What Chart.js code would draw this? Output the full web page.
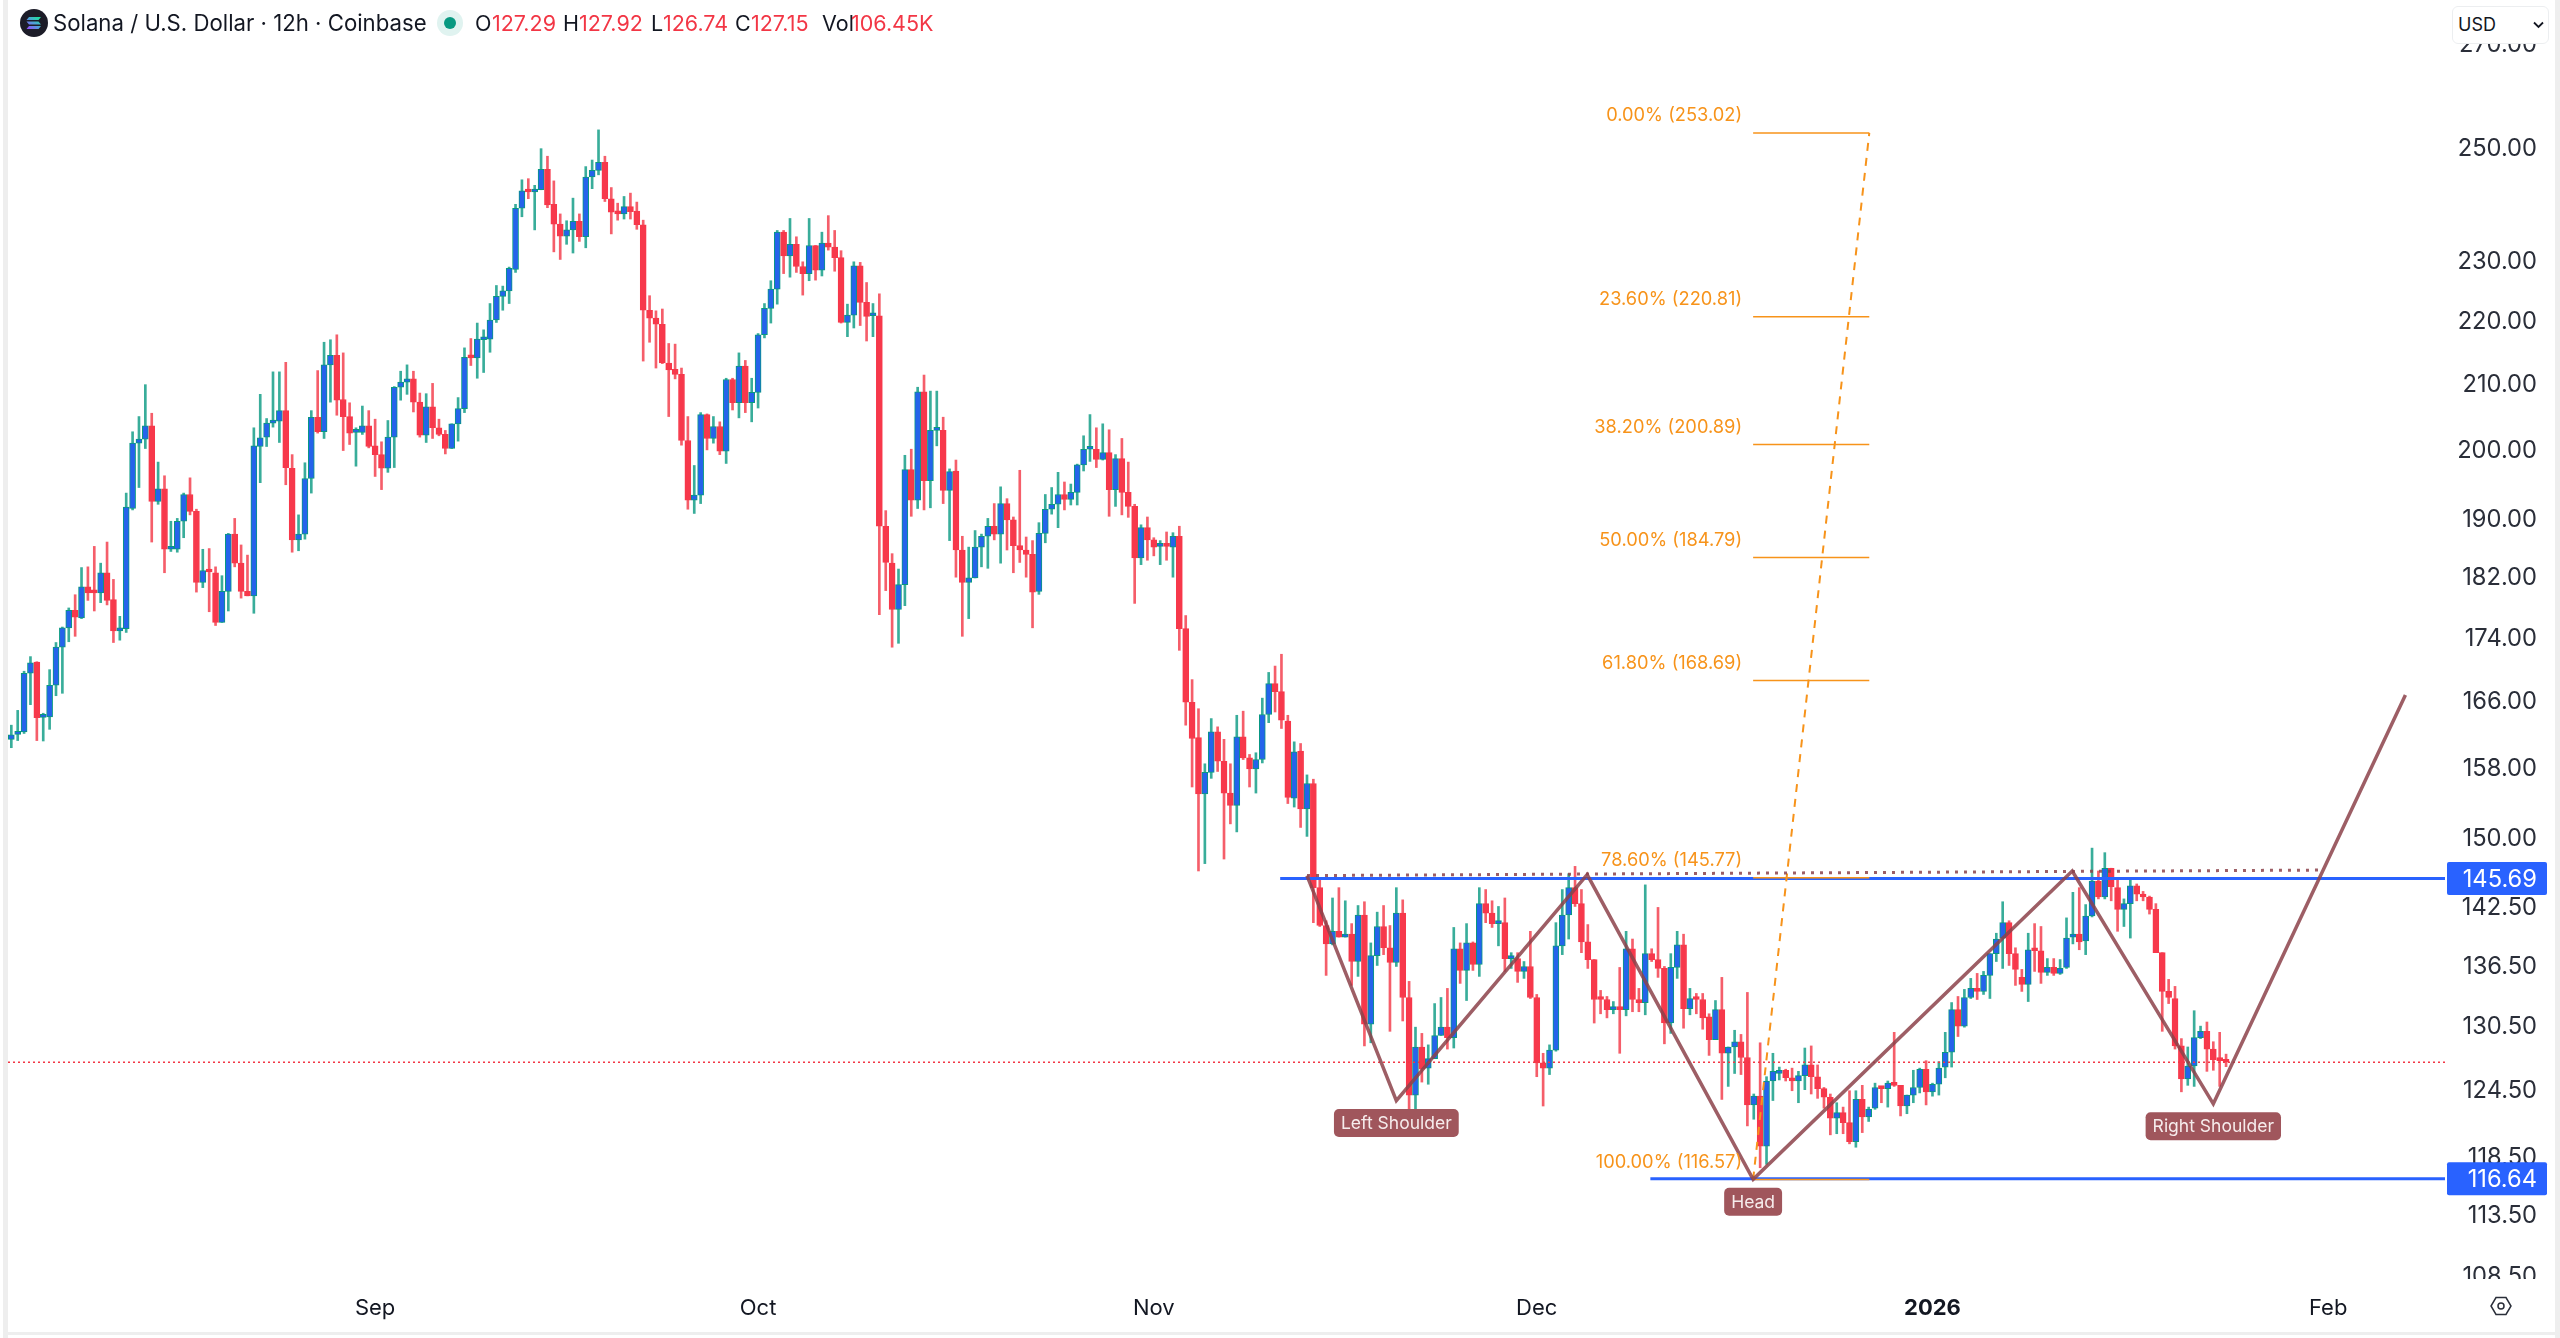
<!DOCTYPE html>
<html>
<head>
<meta charset="utf-8">
<title>Solana / U.S. Dollar</title>
<script src="https://cdn.jsdelivr.net/npm/chart.js@4"></script>
<style>
  html, body { margin: 0; padding: 0; background: #fff; width: 2560px; height: 1338px; overflow: hidden; font-family: Inter, sans-serif; color: #131722; }
  canvas { position: absolute; left: 0; top: 0; }
  .edge { position: absolute; background: #eeeeee; }
  .head { position: absolute; top: 10px; height: 26px; line-height: 26px; font-size: 21.5px; white-space: nowrap; }
  .red { color: #f23645; }
  #usd { position: absolute; left: 2452px; top: 6px; width: 95px; height: 36px; background: #fff; border: 1px solid #eceef0; border-radius: 6px; font-size: 18px; line-height: 36px; text-indent: 5px; box-sizing: content-box; }
  #mask { position: absolute; left: 2450px; top: 1279px; width: 100px; height: 10px; background: #fff; }
</style>
</head>
<body>
<canvas id="chart" width="2560" height="1338"></canvas>
<div class="edge" style="left:3px;top:0;width:5px;height:1338px"></div>
<div class="edge" style="left:2555px;top:0;width:5px;height:1338px"></div>
<div class="edge" style="left:3px;top:1332px;width:2557px;height:3px"></div>
<div id="mask"></div>
<svg style="position:absolute;left:20px;top:9px" width="28" height="28" viewBox="0 0 28 28">
  <defs><linearGradient id="sol" x1="0" y1="1" x2="1" y2="0"><stop offset="0" stop-color="#9945ff"/><stop offset="0.5" stop-color="#4fa0d8"/><stop offset="1" stop-color="#14f195"/></linearGradient></defs>
  <circle cx="14" cy="14" r="14" fill="#1c1c28"/>
  <path d="M9 8h12l-2.500 3H6.500zM6.500 12.500h12l2.500 3H9zM9 17h12l-2.500 3H6.500z" fill="url(#sol)"/>
</svg>
<div class="head" style="left:53px;font-size:22.2px">Solana / U.S. Dollar · 12h · Coinbase</div>
<svg style="position:absolute;left:436px;top:9px" width="28" height="28"><circle cx="14" cy="14" r="13" fill="#e0f3f0"/><circle cx="14" cy="14" r="6" fill="#089981"/></svg>
<div class="head" style="left:475px">O</div><div class="head red" style="left:492px">127.29</div>
<div class="head" style="left:563px">H</div><div class="head red" style="left:579px">127.92</div>
<div class="head" style="left:651px">L</div><div class="head red" style="left:663px">126.74</div>
<div class="head" style="left:735px">C</div><div class="head red" style="left:751px">127.15</div>
<div class="head" style="left:822px">Vol</div><div class="head red" style="left:851px;word-spacing:-6px">106.45 K</div>
<div id="usd">USD<svg style="position:absolute;left:80px;top:14px" width="11" height="8" viewBox="0 0 11 8"><path d="M1 1.500l4.500 4.500 4.500-4.500" fill="none" stroke="#131722" stroke-width="1.800"/></svg></div>
<svg style="position:absolute;left:2490px;top:1295px" width="22" height="22" viewBox="0 0 22 22"><path d="M6 2.500h10l5 8.500-5 8.500H6L1 11z" fill="none" stroke="#2a2e39" stroke-width="1.500"/><circle cx="11" cy="11" r="3" fill="none" stroke="#2a2e39" stroke-width="1.500"/></svg>
<script>
// candles, 12h bars
const opens = [
  161.5,162.1,162.4,169.6,171.0,164.15,164.2,168.1,172.9,175.4,
  177.7,176.7,180.8,180.1,180.0,182.7,179.1,175.0,175.3,191.6,
  201.1,201.7,203.7,192.6,194.4,185.9,185.9,189.8,193.6,191.2,
  181.4,183.0,182.7,176.1,180.2,188.0,184.0,180.2,179.6,200.6,
  202.0,204.1,204.4,206.0,197.4,187.2,188.0,195.9,205.0,202.8,
  213.1,214.6,207.7,205.1,202.7,202.7,203.7,200.7,199.4,197.4,
  202.0,209.6,210.4,210.9,207.3,202.3,206.6,203.4,202.4,200.3,
  204.0,206.3,214.4,214.2,217.1,217.2,220.3,224.2,225.1,228.7,
  239.3,242.3,242.2,242.6,246.3,240.0,236.5,234.4,235.5,237.0,
  234.3,244.9,246.1,247.6,241.0,238.6,238.3,239.6,238.8,236.4,
  221.9,220.6,219.6,213.4,212.4,211.6,201.5,192.8,193.5,205.4,
  201.8,203.6,199.9,210.8,207.2,212.9,207.2,208.8,217.9,222.2,
  225.4,235.1,231.0,233.0,229.2,228.0,232.8,228.6,233.2,232.5,
  230.7,219.9,221.1,229.3,223.2,221.0,221.0,189.1,184.0,177.8,
  181.1,197.2,192.8,208.9,195.6,203.0,203.0,194.2,197.0,185.8,
  181.4,182.0,186.2,187.7,189.1,188.0,192.3,190.0,186.4,185.8,
  185.2,180.2,188.1,191.5,192.2,193.6,192.9,193.9,197.9,200.2,
  200.2,198.7,199.7,194.3,198.8,193.9,191.9,184.7,188.9,187.2,
  186.3,186.4,186.2,187.7,175.3,166.0,161.7,155.1,157.6,162.4,
  158.9,155.2,153.8,161.8,159.3,158.0,159.1,164.5,168.3,167.3,
  163.7,154.6,160.1,153.4,156.3,144.7,140.7,138.8,140.1,139.5,
  139.8,137.0,141.8,130.8,137.6,140.6,138.4,136.9,142.0,133.4,
  124.1,128.6,126.6,127.5,129.7,130.5,129.5,138.3,136.1,138.9,
  136.7,143.0,142.0,140.9,141.0,137.3,137.3,136.0,136.5,133.4,
  127.1,126.6,128.3,138.6,141.8,144.7,143.0,139.0,137.2,133.3,
  133.2,132.2,132.4,132.2,138.3,133.2,132.9,137.8,137.2,136.3,
  130.9,136.4,138.7,132.3,133.3,133.2,131.5,129.3,132.2,128.0,
  128.6,129.1,127.6,123.2,124.0,119.5,125.4,126.1,126.4,125.7,
  125.4,125.9,126.9,125.8,124.7,123.9,122.0,122.5,121.6,119.9,
  123.7,122.1,122.9,124.8,124.7,125.2,125.0,123.1,124.1,124.8,
  126.5,124.4,125.1,126.7,128.1,132.2,130.6,133.4,134.3,134.0,
  135.6,137.8,139.4,141.0,137.8,135.4,134.7,138.2,138.1,135.9,
  136.4,135.8,136.4,139.5,139.8,139.1,141.7,145.4,143.7,146.8,
  144.7,142.4,143.0,144.9,144.0,143.7,142.4,137.9,134.0,133.3,
  128.7,125.6,126.8,129.5,130.1,128.4,127.4,127.29
];
const highs = [
  163.2,165.0,169.85,171.7,171.05,164.65,170.05,173.5,175.5,178.0,
  179.75,183.4,183.5,186.3,184.0,186.9,181.8,176.9,193.8,202.8,
  205.1,210.0,205.6,198.3,196.3,189.8,190.2,193.8,196.0,191.5,
  185.9,186.0,183.5,182.3,188.1,190.2,186.5,185.1,203.4,208.5,
  204.8,212.0,212.0,213.5,199.4,190.7,198.2,206.0,212.2,216.7,
  217.1,217.9,215.0,207.2,203.4,206.7,206.0,204.7,201.3,204.5,
  209.7,212.1,213.1,212.1,208.7,208.6,210.2,204.7,203.0,204.0,
  208.0,215.8,217.3,219.8,218.7,223.0,226.0,225.9,229.1,240.0,
  244.4,244.6,243.4,250.1,248.7,244.2,238.3,237.1,241.1,238.3,
  246.8,248.0,253.6,248.7,243.0,240.2,241.4,242.0,240.4,237.2,
  224.3,221.8,222.1,216.5,216.4,212.6,205.1,197.8,205.7,205.5,
  205.1,204.3,211.0,211.0,215.0,213.8,211.0,218.1,223.0,226.8,
  235.4,235.4,237.5,234.3,230.0,237.5,232.8,235.1,238.0,235.4,
  231.9,222.9,230.0,229.9,226.5,223.0,224.6,191.3,185.3,183.2,
  199.3,200.2,209.6,211.5,209.0,209.0,205.0,197.3,198.6,187.7,
  186.2,188.5,188.0,190.2,192.3,194.7,193.0,190.4,197.1,187.6,
  187.1,189.6,193.6,194.6,196.8,195.4,195.1,198.0,202.2,205.4,
  203.4,204.0,203.1,199.4,201.8,198.3,192.2,189.3,190.4,187.5,
  187.1,188.3,188.2,189.1,177.0,168.8,165.2,158.6,164.0,163.0,
  161.5,158.6,164.4,164.9,159.7,159.9,166.5,169.7,170.5,172.0,
  164.4,161.2,161.0,157.3,156.8,145.6,141.2,143.6,144.7,143.3,
  140.9,142.8,143.2,138.9,142.1,142.8,140.7,144.7,143.4,135.0,
  130.5,129.9,128.8,132.8,133.4,134.3,140.5,138.9,140.9,139.0,
  144.7,144.5,143.3,142.7,143.6,137.9,137.9,137.0,140.1,133.7,
  128.0,128.8,141.0,144.5,146.2,147.0,144.5,140.8,137.2,134.1,
  133.5,133.0,136.4,140.1,139.3,134.3,145.0,138.3,142.6,136.5,
  137.8,140.1,139.8,134.3,133.8,133.8,131.8,133.1,135.4,128.6,
  130.2,129.8,133.9,124.2,129.0,125.8,128.0,126.7,126.5,126.6,
  126.3,128.5,128.7,126.9,124.8,124.2,123.4,123.0,124.5,124.5,
  125.0,123.0,125.2,124.9,125.4,130.0,125.0,124.1,126.4,126.6,
  127.3,125.2,127.2,130.0,132.9,133.5,134.2,135.3,135.8,136.0,
  137.8,139.9,143.2,141.2,138.4,136.2,139.9,140.9,140.6,137.3,
  137.3,137.2,141.5,144.2,144.7,142.9,149.0,146.5,148.5,146.8,
  145.7,143.5,145.6,145.1,144.3,143.8,143.0,137.9,135.2,134.5,
  129.4,128.6,132.1,130.6,131.0,129.1,130.0,127.92
];
const lows = [
  160.5,161.35,162.2,165.7,161.35,161.3,162.7,166.8,167.1,173.6,
  174.3,176.6,179.0,177.6,178.7,178.4,173.5,173.8,174.8,191.4,
  194.6,200.3,186.9,192.2,182.7,185.6,185.5,187.5,190.7,180.1,
  180.7,177.5,175.7,176.1,177.6,183.5,179.3,179.6,177.3,195.3,
  200.6,203.5,201.2,195.0,185.5,185.7,187.3,193.8,202.6,201.8,
  207.3,205.3,200.0,200.9,197.7,202.4,200.4,196.2,194.3,196.8,
  197.5,207.6,208.5,205.8,202.0,201.2,201.8,202.2,199.5,200.3,
  201.4,205.7,213.0,211.0,211.9,215.1,219.9,221.9,223.0,228.2,
  237.8,241.0,235.5,242.6,239.4,231.7,230.4,233.0,231.5,233.5,
  232.4,242.8,245.3,240.5,234.8,237.2,237.4,237.4,235.6,213.7,
  216.7,212.6,213.3,205.1,210.9,200.8,191.5,190.9,192.3,200.1,
  201.1,199.4,198.1,206.1,204.9,205.7,204.3,206.4,217.4,219.8,
  222.9,228.0,227.4,228.2,224.4,226.8,226.9,227.6,232.0,228.4,
  219.8,217.6,219.0,219.4,216.9,217.6,177.1,180.3,172.9,173.4,
  178.3,190.5,191.6,191.4,191.7,200.7,192.3,187.1,182.1,174.3,
  176.6,182.0,183.5,183.3,187.2,184.0,185.8,182.7,184.1,182.1,
  175.4,179.8,186.8,190.8,188.9,191.4,192.1,192.1,197.0,198.4,
  197.5,198.6,190.5,191.9,190.7,190.35,178.6,183.8,184.4,185.0,
  183.8,184.4,182.1,172.5,163.2,155.9,146.5,147.3,156.9,157.7,
  147.8,151.7,150.8,159.1,155.9,155.2,158.7,163.5,164.8,162.8,
  154.0,153.6,151.3,150.3,141.0,140.6,135.6,138.7,139.5,139.5,
  134.6,135.5,128.7,129.0,136.6,137.7,130.1,136.5,131.1,122.1,
  121.9,125.3,125.1,127.5,129.7,128.4,128.5,134.8,133.1,136.1,
  135.5,141.0,140.5,138.6,136.0,136.3,134.9,135.3,133.3,125.8,
  123.1,126.0,128.2,137.7,139.3,142.7,137.9,136.3,130.9,131.8,
  131.4,131.8,128.0,131.6,132.0,132.0,131.7,137.0,135.4,128.9,
  129.9,135.3,130.4,131.7,131.8,130.3,127.8,129.3,123.7,124.9,
  126.1,126.0,121.3,121.9,117.6,117.9,123.6,125.5,125.4,124.5,
  123.4,124.6,124.2,123.8,122.9,120.5,120.6,120.6,119.7,119.4,
  120.7,121.7,122.8,123.4,123.0,124.9,122.2,122.4,123.4,124.3,
  123.2,124.0,124.1,125.7,126.7,129.6,130.5,133.3,133.2,133.7,
  133.3,137.0,136.3,136.6,134.6,134.0,133.0,136.0,134.8,135.6,
  135.6,135.7,136.3,138.8,138.2,137.7,141.6,143.5,143.5,143.3,
  140.1,140.6,139.4,143.3,143.3,141.9,137.9,130.1,132.8,128.4,
  124.4,125.0,124.9,129.4,126.3,126.4,124.9,126.74
];
const closes = [
  162.05,162.4,169.6,170.9,164.1,164.3,168.1,172.9,175.4,177.7,
  176.8,180.8,180.0,180.0,182.7,179.0,175.0,175.3,191.8,201.1,
  201.7,203.7,192.6,194.4,185.9,186.0,189.8,193.6,191.2,181.4,
  183.0,182.8,176.1,180.2,188.0,184.0,180.2,179.6,200.7,201.9,
  204.1,204.4,206.0,197.5,187.2,188.0,195.9,205.0,202.8,213.1,
  214.6,207.6,205.1,202.6,202.9,203.7,200.6,199.4,197.4,202.0,
  209.6,210.4,210.9,207.3,202.3,206.6,203.4,202.4,200.3,204.0,
  206.3,214.3,214.2,217.2,217.3,220.3,224.2,225.1,228.9,239.3,
  242.4,242.2,242.6,246.3,239.9,236.5,234.4,235.5,237.0,234.3,
  244.9,246.1,247.6,241.0,238.6,238.3,239.6,238.7,236.4,221.9,
  220.6,219.6,213.4,212.3,211.6,201.5,192.8,193.5,205.4,201.8,
  203.6,199.9,210.8,207.2,212.9,207.2,208.8,217.9,222.2,225.4,
  235.1,231.0,233.0,229.2,228.0,232.8,228.6,233.2,232.5,230.7,
  219.9,221.1,229.3,223.2,220.9,221.2,189.1,184.1,177.8,181.1,
  197.2,192.8,208.9,195.6,203.0,203.2,194.2,196.9,185.8,181.4,
  182.0,186.2,187.7,189.1,188.0,192.3,190.0,186.4,185.8,185.2,
  180.1,188.1,191.5,192.2,193.6,192.9,193.9,197.9,200.2,200.3,
  198.7,199.7,194.3,198.8,193.9,191.9,184.7,188.9,187.2,186.2,
  186.4,186.3,187.7,175.3,166.0,161.6,155.1,157.6,162.4,158.9,
  155.2,153.8,161.8,159.3,158.0,159.1,164.5,168.3,167.3,163.8,
  154.7,160.0,153.4,156.3,144.7,140.7,138.8,140.1,139.5,139.8,
  137.0,141.8,130.8,137.6,140.6,138.4,136.9,142.0,133.4,124.1,
  128.6,126.5,127.5,129.7,130.5,129.5,138.3,136.1,138.9,136.7,
  143.0,142.0,140.9,141.0,137.3,137.4,136.0,136.5,133.4,127.1,
  126.6,128.3,138.6,141.8,144.7,143.0,139.0,137.2,133.2,133.2,
  132.2,132.5,132.2,138.3,133.2,132.9,137.8,137.2,136.3,130.9,
  136.4,138.7,132.3,133.3,133.2,131.4,129.3,132.2,128.0,128.6,
  129.1,127.6,123.2,124.0,119.5,125.4,126.3,126.4,125.7,125.4,
  125.9,126.9,125.8,124.7,123.9,122.0,122.5,121.6,119.9,123.7,
  122.1,122.8,124.8,124.7,125.2,125.0,123.1,124.1,124.8,126.5,
  124.4,125.1,126.6,128.1,132.2,130.6,133.4,134.3,134.0,135.6,
  137.8,139.3,141.0,137.8,136.2,134.7,138.2,138.1,135.9,136.4,
  135.8,136.3,139.4,139.8,139.0,141.7,145.4,143.7,146.8,144.8,
  142.4,143.0,144.9,144.0,143.7,142.4,137.9,134.0,133.4,128.7,
  125.6,126.8,129.5,130.1,128.4,127.4,127.3,127.15
];

// axes
const Y_TICKS = [270, 250, 230, 220, 210, 200, 190, 182, 174, 166, 158, 150, 142.5, 136.5, 130.5, 124.5, 118.5, 113.5, 108.5];
const X_TICKS = [57, 117, 179, 239, 301, 363]; // bar index of each month start
const X_LABELS = ["Sep", "Oct", "Nov", "Dec", "2026", "Feb"];
const X_MIN = -0.52, X_MAX = 381.3, Y_MIN = 108.22, Y_MAX = 279.2;

// drawings
const PATTERN_X = [203.0, 217.0, 246.9, 272.9, 322.9, 345.0, 375.1];
const PATTERN_Y = [146.0, 123.6, 146.1, 116.6, 146.5, 123.3, 166.9];
const NECK_X = [203.0, 362.1];
const NECK_Y = [146.0, 146.6];
const PATTERN_NAMES = ["Left Shoulder", "Head", "Right Shoulder"];
const PATTERN_NAME_AT = [1, 3, 5];
const FIB_PCT = ["0.00%", "23.60%", "38.20%", "50.00%", "61.80%", "78.60%", "100.00%"];
const FIB_PRICE = [253.02, 220.81, 200.89, 184.79, 168.69, 145.77, 116.57];
const FIB_X = [272.9, 291.1];
const LEVELS = [145.69, 116.64];
const LEVEL_FROM = [198.8, 256.8];
const LAST_PRICE = 127.15;

const GREEN = "#089981", RED = "#f23645", BLUE = "#2563eb", BODY_RED = "#f7384b";
const BROWN = "rgba(140,66,74,0.85)", ORANGE = "#f7931a", LEVEL_BLUE = "#2962ff", LABEL_BROWN = "#a0565c";
const FONT = "Inter, sans-serif";

const isUp = (i) => closes[i] >= opens[i];
const wicks = opens.map((o, i) => ({ x: i, y: [lows[i], highs[i]] }));
const bodies = opens.map((o, i) => ({ x: i, y: [Math.min(o, closes[i]), Math.max(o, closes[i])] }));
const pts = (xs, ys) => xs.map((x, i) => ({ x, y: ys[i] }));

const lineDs = (data, color, width, dash, order) => ({
  type: "line", data, borderColor: color, borderWidth: width, borderDash: dash || [],
  pointRadius: 0, fill: false, tension: 0, order,
});

const datasets = [
  {
    data: wicks, barThickness: 2, grouped: false, order: 9, minBarLength: 1,
    backgroundColor: wicks.map((w, i) => isUp(i) ? "rgba(8,153,129,0.8)" : "rgba(242,54,69,0.8)"),
  },
  {
    data: bodies, barThickness: 6, grouped: false, order: 8, minBarLength: 3, borderWidth: 1, borderSkipped: false,
    backgroundColor: bodies.map((b, i) => isUp(i) ? BLUE : BODY_RED),
    borderColor: bodies.map((b, i) => isUp(i) ? GREEN : BODY_RED),
  },
  lineDs(pts([X_MIN, X_MAX], [LAST_PRICE, LAST_PRICE]), RED, 1.5, [2, 3], 7),
  lineDs(pts([LEVEL_FROM[0], X_MAX], [LEVELS[0], LEVELS[0]]), LEVEL_BLUE, 3, null, 5),
  lineDs(pts([LEVEL_FROM[1], X_MAX], [LEVELS[1], LEVELS[1]]), LEVEL_BLUE, 3, null, 5),
  ...FIB_PRICE.map((p) => lineDs(pts(FIB_X, [p, p]), ORANGE, 1.5, null, 4)),
  lineDs(pts(FIB_X, [FIB_PRICE[6], FIB_PRICE[0]]), ORANGE, 2, [8, 7], 4),
  lineDs(pts(NECK_X, NECK_Y), BROWN, 3, [3, 6], 3),
  lineDs(pts(PATTERN_X, PATTERN_Y), BROWN, 3.5, null, 2),
];

// labels and price tags sit over the marks
const overlay = {
  id: "overlay",
  afterDraw(chart) {
    const { ctx, scales: { x, y }, chartArea } = chart;
    ctx.save();
    ctx.textBaseline = "middle";

    // fib level captions
    ctx.font = "18.3px " + FONT;
    ctx.fillStyle = ORANGE;
    ctx.textAlign = "right";
    FIB_PRICE.forEach((p, i) => {
      ctx.fillText(FIB_PCT[i] + " (" + p.toFixed(2) + ")", x.getPixelForValue(FIB_X[0]) - 11, y.getPixelForValue(p) - 17);
    });

    // pattern name boxes
    ctx.font = "17.5px " + FONT;
    ctx.textAlign = "center";
    PATTERN_NAMES.forEach((name, i) => {
      const k = PATTERN_NAME_AT[i];
      const cx = x.getPixelForValue(PATTERN_X[k]);
      const top = y.getPixelForValue(PATTERN_Y[k]) + 8.5;
      const w = ctx.measureText(name).width + 14;
      ctx.fillStyle = LABEL_BROWN;
      ctx.beginPath();
      ctx.roundRect(cx - w / 2, top, w, 28, 5);
      ctx.fill();
      ctx.fillStyle = "#f6ecec";
      ctx.fillText(name, cx, top + 14.5);
    });

    // level price tags
    ctx.font = "23.7px " + FONT;
    ctx.textAlign = "right";
    LEVELS.forEach((p) => {
      const py = y.getPixelForValue(p);
      ctx.fillStyle = LEVEL_BLUE;
      ctx.beginPath();
      ctx.roundRect(chartArea.right + 2, py - 16.5, 100, 33, 2);
      ctx.fill();
      ctx.fillStyle = "#ffffff";
      ctx.fillText(p.toFixed(2), chartArea.right + 92, py + 1);
    });
    ctx.restore();
  },
};

new Chart(document.getElementById("chart"), {
  type: "bar",
  data: { datasets },
  plugins: [overlay],
  options: {
    responsive: false,
    animation: false,
    devicePixelRatio: 1,
    layout: { padding: { left: 8, right: 23, top: 0, bottom: 0 } },
    plugins: { legend: { display: false }, tooltip: { enabled: false } },
    scales: {
      x: {
        type: "linear", min: X_MIN, max: X_MAX, bounds: "data", offset: false,
        grid: { display: false }, border: { display: false },
        afterBuildTicks: (s) => { s.ticks = X_TICKS.map((v) => ({ value: v })); },
        afterFit: (s) => { s.height = 58; s.paddingLeft = 0; s.paddingRight = 0; },
        ticks: {
          autoSkip: false, maxRotation: 0, padding: 7, color: "#131722",
          font: (c) => ({ family: FONT, size: 22, weight: c.index === 4 ? "bold" : "normal" }),
          callback: (v) => X_LABELS[X_TICKS.indexOf(v)],
        },
      },
      y: {
        type: "logarithmic", position: "right", min: Y_MIN, max: Y_MAX, bounds: "data",
        grid: { display: false, drawTicks: false }, border: { display: false },
        afterBuildTicks: (s) => { s.ticks = Y_TICKS.map((v) => ({ value: v })); },
        afterFit: (s) => { s.width = 92; s.paddingTop = 0; s.paddingBottom = 0; },
        ticks: {
          autoSkip: false, crossAlign: "far", color: "#2a2e39",
          font: { family: FONT, size: 23.7 },
          callback: (v) => Number(v).toFixed(2),
        },
      },
    },
  },
});
</script>
</body>
</html>
